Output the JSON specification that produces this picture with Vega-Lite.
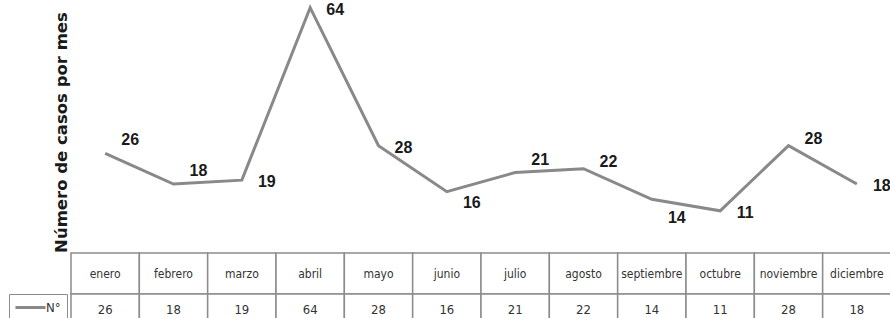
{
  "$schema": "https://vega.github.io/schema/vega-lite/v6.json",
  "padding": {"left": 8, "top": 0, "right": 0, "bottom": 0},
  "background": "white",
  "spacing": 0,
  "bounds": "flush",
  "config": {"view": {"stroke": null}},
  "datasets": {
    "casos": [
      {"mes": "enero", "n": 26},
      {"mes": "febrero", "n": 18},
      {"mes": "marzo", "n": 19},
      {"mes": "abril", "n": 64},
      {"mes": "mayo", "n": 28},
      {"mes": "junio", "n": 16},
      {"mes": "julio", "n": 21},
      {"mes": "agosto", "n": 22},
      {"mes": "septiembre", "n": 14},
      {"mes": "octubre", "n": 11},
      {"mes": "noviembre", "n": 28},
      {"mes": "diciembre", "n": 18}
    ]
  },
  "vconcat": [
    {
      "width": 820,
      "height": 253,
      "data": {"name": "casos"},
      "encoding": {
        "x": {"field": "mes", "type": "nominal", "sort": null, "scale": {"type": "point", "padding": 0.5}, "axis": null},
        "y": {"field": "n", "type": "quantitative", "scale": {"domain": [0, 66], "nice": false},
          "axis": {"title": "Número de casos por mes", "domain": false, "ticks": false, "labels": false, "grid": false,
            "titleFont": "DejaVu Sans", "titleFontSize": 16.5, "titleFontWeight": "bold", "titleColor": "#1a1a1a",
            "titleX": -10, "titleY": 132, "titleBaseline": "middle", "titleAlign": "center", "titleAngle": -90}}
      },
      "layer": [
        {
          "mark": {"type": "line", "strokeWidth": 3},
          "encoding": {
            "color": {"datum": "N°", "scale": {"range": ["#898989"]},
              "legend": {"title": null, "orient": "none", "legendX": -62, "legendY": 294, "strokeColor": "#8c8c8c", "padding": 6,
                "symbolType": "M-1.17,0H3.83", "symbolSize": 144, "symbolStrokeWidth": 3, "symbolFillColor": "transparent",
                "labelFont": "DejaVu Sans Condensed, Liberation Sans", "labelFontSize": 13, "labelColor": "#333", "labelOffset": 16,
                "labelExpr": "datum.label + '\u00a0\u00a0'"}}
          }
        },
        {
          "transform": [{"filter": {"field": "mes", "oneOf": ["enero", "febrero", "julio"]}}],
          "mark": {"type": "text", "dx": 25, "dy": -13, "font": "Liberation Sans", "fontSize": 16, "fontWeight": "bold", "color": "#1a1a1a"},
          "encoding": {"text": {"field": "n"}}
        },
        {
          "transform": [{"filter": {"field": "mes", "oneOf": ["agosto", "noviembre"]}}],
          "mark": {"type": "text", "dx": 25, "dy": -7, "font": "Liberation Sans", "fontSize": 16, "fontWeight": "bold", "color": "#1a1a1a"},
          "encoding": {"text": {"field": "n"}}
        },
        {
          "transform": [{"filter": {"field": "mes", "oneOf": ["marzo", "abril", "mayo", "octubre", "diciembre"]}}],
          "mark": {"type": "text", "dx": 25, "dy": 2, "font": "Liberation Sans", "fontSize": 16, "fontWeight": "bold", "color": "#1a1a1a"},
          "encoding": {"text": {"field": "n"}}
        },
        {
          "transform": [{"filter": {"field": "mes", "oneOf": ["junio"]}}],
          "mark": {"type": "text", "dx": 25, "dy": 11, "font": "Liberation Sans", "fontSize": 16, "fontWeight": "bold", "color": "#1a1a1a"},
          "encoding": {"text": {"field": "n"}}
        },
        {
          "transform": [{"filter": {"field": "mes", "oneOf": ["septiembre"]}}],
          "mark": {"type": "text", "dx": 25, "dy": 19, "font": "Liberation Sans", "fontSize": 16, "fontWeight": "bold", "color": "#1a1a1a"},
          "encoding": {"text": {"field": "n"}}
        }
      ]
    },
    {
      "width": 820,
      "height": 41,
      "data": {"name": "casos"},
      "encoding": {
        "x": {"field": "mes", "type": "nominal", "sort": null, "scale": {"type": "band", "paddingInner": 0, "paddingOuter": 0}, "axis": null}
      },
      "layer": [
        {"mark": {"type": "rect", "fill": "white", "stroke": "#8c8c8c", "strokeWidth": 1.5}},
        {"mark": {"type": "text", "font": "DejaVu Sans Condensed, Liberation Sans", "fontSize": 12, "color": "#333"}, "encoding": {"text": {"field": "mes"}}}
      ]
    },
    {
      "width": 820,
      "height": 32,
      "data": {"name": "casos"},
      "encoding": {
        "x": {"field": "mes", "type": "nominal", "sort": null, "scale": {"type": "band", "paddingInner": 0, "paddingOuter": 0}, "axis": null}
      },
      "layer": [
        {"mark": {"type": "rect", "fill": "white", "stroke": "#8c8c8c", "strokeWidth": 1.5}},
        {"mark": {"type": "text", "font": "DejaVu Sans Condensed, Liberation Sans", "fontSize": 13, "color": "#333"}, "encoding": {"text": {"field": "n"}}}
      ]
    }
  ]
}
